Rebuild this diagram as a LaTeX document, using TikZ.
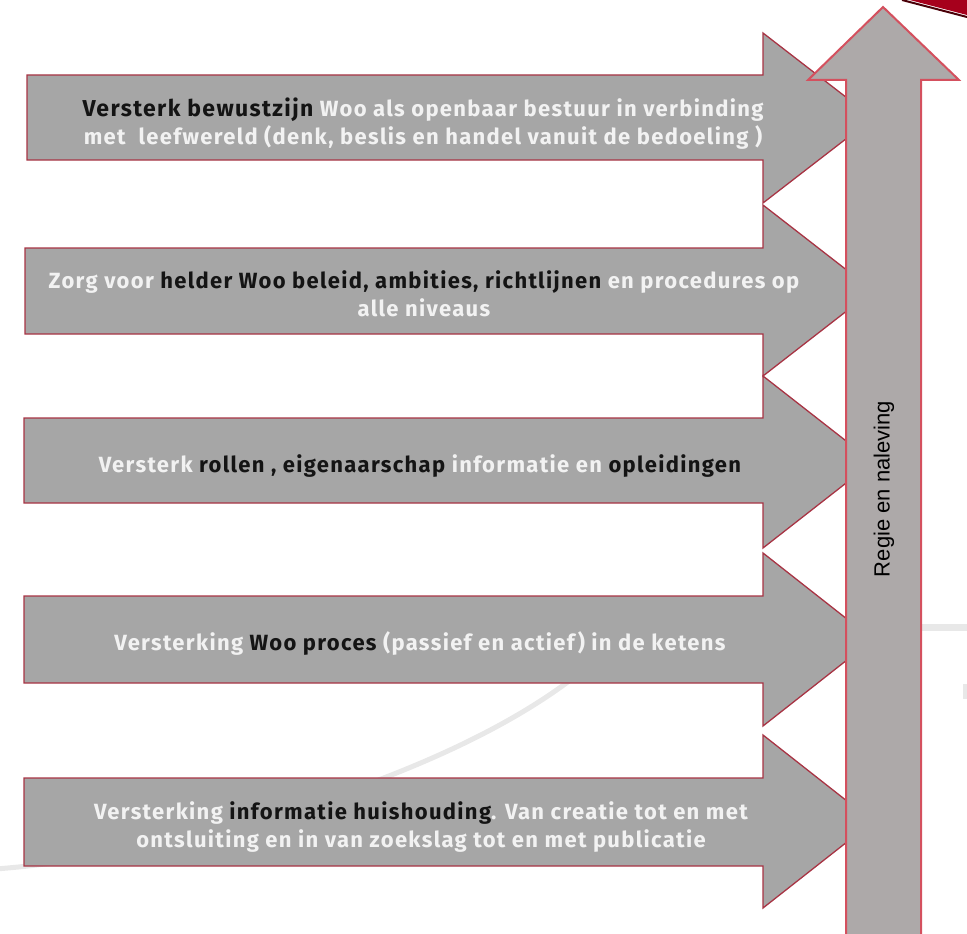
\documentclass[tikz,border=0pt]{standalone}
\usepackage{fontspec}
\setmainfont{Fira Sans}[LetterSpace=6]
\newfontfamily\vfont{Liberation Sans}
\definecolor{agray}{HTML}{A6A6A6}
\definecolor{aedge}{HTML}{A83444}
\definecolor{vgray}{HTML}{ADA9A9}
\definecolor{vedge}{HTML}{D4505E}
\definecolor{wtxt}{HTML}{F2F2F2}
\definecolor{btxt}{HTML}{141414}
\definecolor{swoosh}{HTML}{E8E8E8}
\definecolor{cornerred}{HTML}{A6001C}
\definecolor{cornerdark}{HTML}{4A0008}
\def\HArrow#1#2#3#4#5{%
  \draw[harrow] (#1,#2) -- (763,#2) -- (763,#4) -- (873,{(#4+#5)/2}) -- (763,#5) -- (763,#3) -- (#1,#3) -- cycle;}
\newcommand\bk[1]{\textcolor{btxt}{#1}}
\begin{document}
\begin{tikzpicture}[x=1pt,y=-1pt,
  harrow/.style={fill=agray, draw=aedge, line width=1.3pt, line join=miter},
  varrow/.style={fill=vgray, draw=vedge, line width=2pt, line join=miter},
  lbl/.style={font=\bfseries\fontsize{22}{28}\selectfont, text=wtxt, align=center, inner sep=0pt},
  vlbl/.style={font=\vfont\fontsize{22}{26}\selectfont, text=black, rotate=90, inner sep=0pt}]
\useasboundingbox (0,0) rectangle (967,934);
% background swooshes
\draw[swoosh, line width=5pt] (-5,869) .. controls (150,858) and (420,790) .. (565,684) -- (600,658);
\fill[swoosh] (921,624) rectangle (967,631);
\fill[swoosh] (963,684) rectangle (967,699);
% corner shape
\fill[cornerred] (902,-2) -- (967,15) -- (967,-2) -- cycle;
\draw[cornerdark, line width=2pt] (902,0) -- (967,17);
% horizontal arrows
\HArrow{27}{75}{160}{33}{203}
\HArrow{25}{248}{334}{205}{376}
\HArrow{24}{418}{503}{376}{548}
\HArrow{24}{596}{683}{553}{726}
\HArrow{24}{778}{866}{735}{908}
% vertical arrow
\draw[varrow] (846,940) -- (846,80) -- (808,80) -- (883,7) -- (959,80) -- (921,80) -- (921,940);
% labels
\node[lbl] (t1) at (423,124) {\bk{\fontsize{23}{28}\selectfont Versterk bewustzijn} Woo als openbaar bestuur in verbinding\\met\ \ leefwereld (denk, beslis en handel vanuit de bedoeling )};
\node[lbl] (t2) at (424,294) {Zorg voor \bk{helder Woo beleid, ambities, richtlijnen} en procedures op\\alle niveaus};
\node[lbl] (t3) at (420,466) {Versterk \bk{rollen , eigenaarschap} informatie en \bk{opleidingen}};
\node[lbl] (t4) at (420,643) {Versterking \bk{Woo proces} (passief en actief) in de ketens};
\node[lbl] (t5) at (421,827) {Versterking \bk{informatie huishouding}. Van creatie tot en met\\ontsluiting en in van zoekslag tot en met publicatie};
\node[vlbl] (regie) at (884,489) {Regie en naleving};
\end{tikzpicture}
\end{document}
